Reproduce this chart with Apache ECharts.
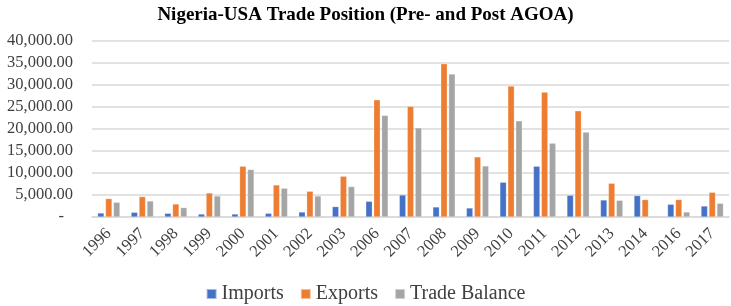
<!DOCTYPE html>
<html><head><meta charset="utf-8">
<script src="https://cdn.jsdelivr.net/npm/echarts@6/dist/echarts.min.js"></script>
<style>html,body{margin:0;padding:0;background:#fff}#c{width:731px;height:306px}</style>
</head><body><div id="c"></div>
<script>
const years = ['1996','1997','1998','1999','2000','2001','2002','2003','2006','2007','2008','2009','2010','2011','2012','2013','2014','2016','2017'];
const imports = [910,1070,840,680,680,840,1140,2370,3570,5010,2280,2050,7900,11540,4940,3870,4870,2890,2500];
const exportsV = [4190,4640,2960,5460,11540,7290,5850,9270,26640,25140,34840,13660,29760,28390,24140,7670,3960,3960,5620];
const tradeBalance = [3350,3640,2140,4780,10800,6540,4780,6920,23090,20270,32490,11610,21860,16780,19290,3800,null,1140,3120];
const seriesNames = ['Imports','Exports','Trade Balance'];
const titleText = 'Nigeria-USA Trade Position (Pre- and Post AGOA)';

const font = '"Liberation Serif","Times New Roman",serif';
const chart = echarts.init(document.getElementById('c'), null, {renderer:'canvas'});
function fmt(v){
  if (v === 0) return '{d|-}';
  return v.toLocaleString('en-US',{minimumFractionDigits:2,maximumFractionDigits:2});
}
const mk = (name, data, color) => ({
  name, type:'bar', data, barWidth:6.5, barGap:'22%',
  itemStyle:{color, borderColor:'rgba(255,255,255,0.5)', borderWidth:0.5},
  animation:false
});
chart.setOption({
  animation:false,
  color:['#4472C4','#ED7D31','#A5A5A5'],
  title:{text:titleText, left:'center', top:1,
    textStyle:{fontFamily:font, fontWeight:'bold', fontSize:19, color:'#000'}},
  legend:{bottom:-3, left:'center', itemWidth:10, itemHeight:10, itemGap:16,
    icon:'rect', data:seriesNames,
    textStyle:{fontFamily:font, fontSize:20, color:'#404040'}},
  grid:{left:92, right:2, top:41, bottom:89, containLabel:false},
  xAxis:{type:'category', data:years,
    axisLine:{lineStyle:{color:'#D9D9D9', width:1.5}},
    axisTick:{show:false},
    axisLabel:{rotate:45, margin:14, fontFamily:font, fontSize:16.5, color:'#404040', interval:0}},
  yAxis:{type:'value', min:0, max:40000, interval:5000,
    axisLine:{show:false}, axisTick:{show:false},
    splitLine:{lineStyle:{color:'#D9D9D9', width:1.5}},
    axisLabel:{margin:19, fontFamily:font, fontSize:16.5, color:'#404040', formatter:fmt,
      rich:{d:{fontFamily:font, fontSize:16.5, color:'#404040', padding:[0,9,0,0]}}}},
  series:[mk(seriesNames[0], imports, '#4472C4'), mk(seriesNames[1], exportsV, '#ED7D31'), mk(seriesNames[2], tradeBalance, '#A5A5A5')]
});
</script></body></html>
